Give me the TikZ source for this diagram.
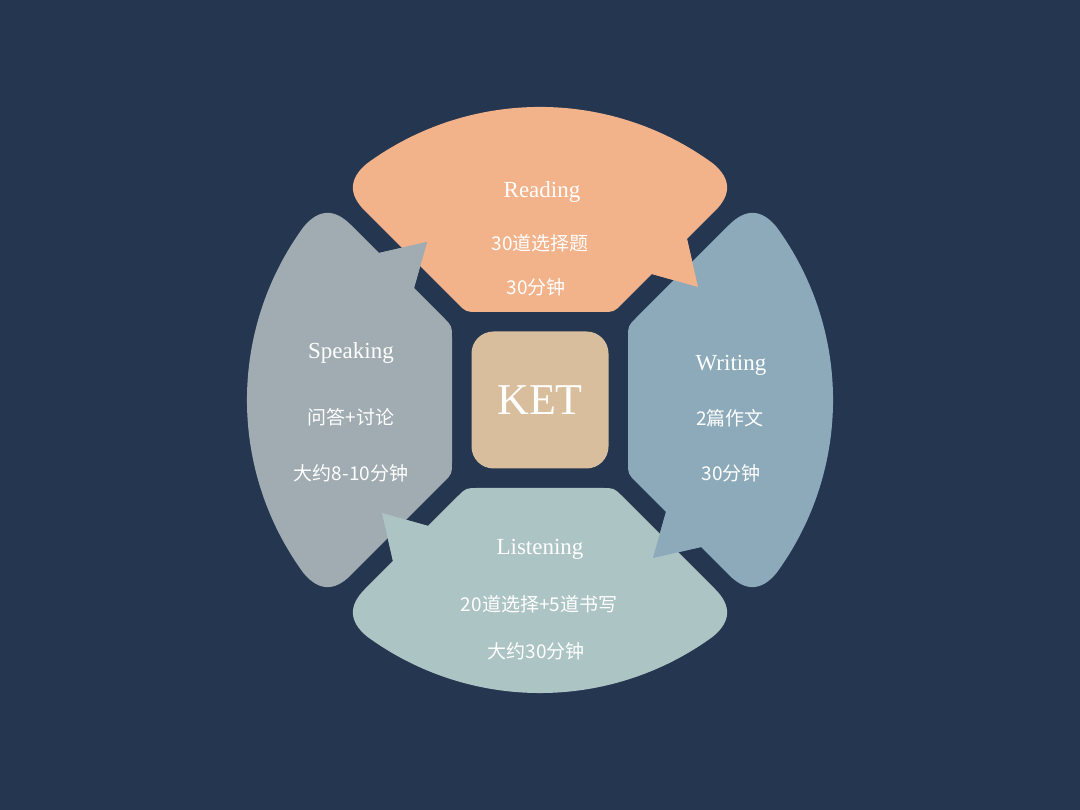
\documentclass[tikz,border=0pt]{standalone}
\usepackage{fontspec}
\setmainfont{Liberation Serif}
\newfontfamily\cjk{Noto Sans CJK SC}
\usetikzlibrary{positioning}

\definecolor{navy}{HTML}{253650}
\definecolor{reading}{HTML}{F2B28A}
\definecolor{writing}{HTML}{8CAAB9}
\definecolor{listening}{HTML}{ADC4C5}
\definecolor{speaking}{HTML}{A0ACB1}
\definecolor{ketbox}{HTML}{D9BE9E}

\tikzstyle{title_node} = [
    white,
    font=\fontsize{23}{28}\selectfont,
    align=center,
    inner sep=0pt
]
\tikzstyle{info_node} = [
    white,
    font=\cjk\fontsize{19}{23}\selectfont,
    align=center,
    inner sep=0pt
]
\tikzstyle{ket_node} = [
    rounded corners=22pt,
    fill=ketbox,
    text=white,
    font=\fontsize{44}{50}\selectfont,
    minimum width=137pt,
    minimum height=137pt,
    inner sep=0pt
]

% one bubble, drawn at the top, rotated for the others
\newcommand{\petal}[1]{
    \fill[#1] (-62,88) .. controls (-74,88) .. (-82.5,96.5)
        -- (-175.25,189.25) .. controls (-191.75,205.75) and (-191.07,221.47) .. (-173.2,236.4)
        arc[start angle=126.23, end angle=53.77, radius=293]
        .. controls (191.07,221.47) and (191.75,205.75) .. (175.25,189.25)
        -- (147,161) -- (158,113) -- (112,126)
        -- (82.5,96.5) .. controls (74,88) .. (62,88) -- cycle;
}
\newcommand{\petaltip}[1]{
    \fill[#1] (147,161) -- (158,113) -- (112,126) -- cycle;
}

\begin{document}
\begin{tikzpicture}[x=1pt, y=1pt]
\useasboundingbox (0,0) rectangle (1080,810);
\fill[navy] (0,0) rectangle (1080,810);

\begin{scope}[shift={(540,410)}]
    \begin{scope}[rotate=0]   \petal{reading}   \end{scope}
    \begin{scope}[rotate=-90] \petal{writing}   \end{scope}
    \begin{scope}[rotate=180] \petal{listening} \end{scope}
    \begin{scope}[rotate=90]  \petal{speaking}  \end{scope}
    % pointers go over the next bubble
    \begin{scope}[rotate=0]   \petaltip{reading}   \end{scope}
    \begin{scope}[rotate=-90] \petaltip{writing}   \end{scope}
    \begin{scope}[rotate=180] \petaltip{listening} \end{scope}
    \begin{scope}[rotate=90]  \petaltip{speaking}  \end{scope}
\end{scope}

\node [ket_node] (ket) at (540,410) {KET};

\node [title_node] (read) at (542,618) {Reading};
\node [info_node] (readq) at (540,567) {30道选择题};
\node [info_node] (readt) at (536,523) {30分钟};

\node [title_node] (write) at (731,445) {Writing};
\node [info_node] (writeq) at (730,392) {2篇作文};
\node [info_node] (writet) at (731,337) {30分钟};

\node [title_node] (listen) at (540,261) {Listening};
\node [info_node] (listenq) at (539,206) {20道选择+5道书写};
\node [info_node] (listent) at (536,159) {大约30分钟};

\node [title_node] (speak) at (351,457) {Speaking};
\node [info_node] (speakq) at (351,393) {问答+讨论};
\node [info_node] (speakt) at (351,337) {大约8-10分钟};
\end{tikzpicture}
\end{document}
